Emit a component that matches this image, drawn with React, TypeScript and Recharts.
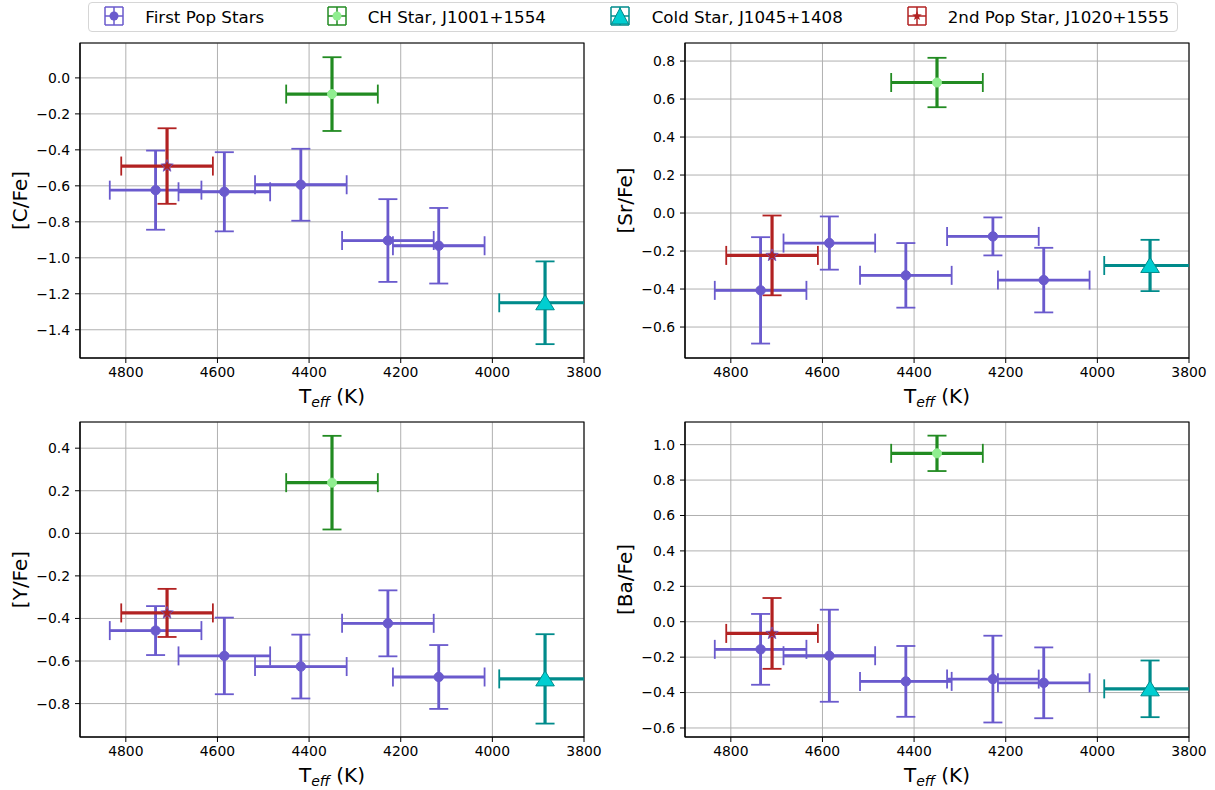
import React from 'react';
import {
  ScatterChart,
  Scatter,
  XAxis,
  YAxis,
  CartesianGrid,
  ErrorBar,
  ReferenceArea,
  Label,
} from 'recharts';

const FONT = '"DejaVu Sans", Verdana, sans-serif';

// effective temperatures (K) and their errors
const teffFirstPop = [4735, 4585, 4418, 4228, 4117];
const teffErrFirstPop = [100, 100, 100, 100, 100];
const teffCH = 4350;
const teffErrCH = 100;
const teffCold = 3885;
const teffErrCold = 100;
const teffSecondPop = 4710;
const teffErrSecondPop = 100;

// [C/Fe]
const cFeFirstPop = [-0.624, -0.633, -0.594, -0.904, -0.933];
const cFeErrFirstPop = [0.22, 0.22, 0.2, 0.23, 0.21];
const cFeOthers = [-0.09, -1.25, -0.49]; // CH, cold, 2nd pop
const cFeErrOthers = [0.205, 0.23, 0.21];

// [Sr/Fe]
const srFeFirstPop = [-0.407, -0.158, -0.328, -0.123, -0.353];
const srFeErrFirstPop = [0.28, 0.14, 0.17, 0.1, 0.17];
const srFeOthers = [0.687, -0.276, -0.223];
const srFeErrOthers = [0.13, 0.135, 0.21];

// [Y/Fe]
const yFeFirstPop = [-0.457, -0.576, -0.626, -0.423, -0.675];
const yFeErrFirstPop = [0.115, 0.18, 0.15, 0.155, 0.15];
const yFeOthers = [0.238, -0.684, -0.374];
const yFeErrOthers = [0.22, 0.21, 0.113];

// [Ba/Fe]
const baFeFirstPop = [-0.156, -0.192, -0.337, -0.324, -0.345];
const baFeErrFirstPop = [0.2, 0.26, 0.2, 0.245, 0.2];
const baFeOthers = [0.951, -0.379, -0.066];
const baFeErrOthers = [0.1, 0.16, 0.2];

const xTicks = [4800, 4600, 4400, 4200, 4000, 3800];

const legendNames = [
  'First Pop Stars',
  'CH Star, J1001+1554',
  'Cold Star, J1045+1408',
  '2nd Pop Star, J1020+1555',
];

const PURPLE = '#6a5acd';
const GREEN = '#228b22';
const TEAL = '#008b8b';
const RED = '#b22222';

// plot area inside each chart svg (same for all four)
const PLOT = { x: 80, y: 43, w: 504, h: 315 };
const CLIP = 'url(#plot-area-clip)';
const CAP = 9.5; // recharts uses this as half the cap length

const panels = [
  {
    label: '[C/Fe]', left: 0, top: 0,
    first: cFeFirstPop, firstErr: cFeErrFirstPop, others: cFeOthers, othersErr: cFeErrOthers,
    domain: [-1.557, 0.194], ticks: [0, -0.2, -0.4, -0.6, -0.8, -1.0, -1.2, -1.4],
  },
  {
    label: '[Sr/Fe]', left: 605, top: 0,
    first: srFeFirstPop, firstErr: srFeErrFirstPop, others: srFeOthers, othersErr: srFeErrOthers,
    domain: [-0.763, 0.895], ticks: [0.8, 0.6, 0.4, 0.2, 0, -0.2, -0.4, -0.6],
  },
  {
    label: '[Y/Fe]', left: 0, top: 379,
    first: yFeFirstPop, firstErr: yFeErrFirstPop, others: yFeOthers, othersErr: yFeErrOthers,
    domain: [-0.957, 0.523], ticks: [0.4, 0.2, 0, -0.2, -0.4, -0.6, -0.8],
  },
  {
    label: '[Ba/Fe]', left: 605, top: 379,
    first: baFeFirstPop, firstErr: baFeErrFirstPop, others: baFeOthers, othersErr: baFeErrOthers,
    domain: [-0.651, 1.128], ticks: [1.0, 0.8, 0.6, 0.4, 0.2, 0, -0.2, -0.4, -0.6],
  },
];

const fmt = (v: number) => {
  const s = Math.abs(v) < 1e-9 ? '0.0' : v.toFixed(1);
  return s.replace('-', '\u2212');
};

const circleShape = (fill: string, stroke: string, r: number) => (p: any) => (
  <circle cx={p.cx} cy={p.cy} r={r} fill={fill} stroke={stroke} strokeWidth={1} />
);

const triangleShape = (p: any) => {
  const { cx, cy } = p;
  return (
    <polygon
      points={`${cx},${cy - 8} ${cx - 9.3},${cy + 7} ${cx + 9.3},${cy + 7}`}
      fill="#00ced1"
      stroke={TEAL}
      strokeWidth={1}
    />
  );
};

function starPoints(cx: number, cy: number, ro: number, ri: number) {
  const pts: string[] = [];
  for (let i = 0; i < 10; i++) {
    const r = i % 2 === 0 ? ro : ri;
    const a = -Math.PI / 2 + (i * Math.PI) / 5;
    pts.push(`${cx + r * Math.cos(a)},${cy + r * Math.sin(a)}`);
  }
  return pts.join(' ');
}

const starShape = (p: any) => (
  <polygon points={starPoints(p.cx, p.cy, 6.5, 2.8)} fill={RED} stroke={PURPLE} strokeWidth={0.8} />
);

const XLabel = (props: any) => {
  const { x, y, width } = props.viewBox;
  return (
    <text x={x + width / 2} y={y + 45} textAnchor="middle" fontFamily={FONT} fontSize={20} fill="#000">
      T
      <tspan fontStyle="italic" fontSize={14} dy={4}>eff</tspan>
      <tspan dy={-4}> (K)</tspan>
    </text>
  );
};

const YLabel = (text: string) => (props: any) => {
  const { x, y, height } = props.viewBox;
  const cx = x - 5;
  const cy = y + height / 2;
  return (
    <text
      x={cx}
      y={cy}
      textAnchor="middle"
      dominantBaseline="central"
      transform={`rotate(-90, ${cx}, ${cy})`}
      fontFamily={FONT}
      fontSize={20}
      fill="#000"
    >
      {text}
    </text>
  );
};

// matplotlib-like error bars: thick bar, thinner caps
function errorBars(color: string, barWidth: number) {
  return [
    <ErrorBar key="xb" dataKey="ex" direction="x" width={0} stroke={color} strokeWidth={barWidth} clipPath={CLIP} />,
    <ErrorBar key="xc" dataKey="ex" direction="x" width={CAP} stroke={color} strokeWidth={1.8} clipPath={CLIP} />,
    <ErrorBar key="yb" dataKey="ey" direction="y" width={0} stroke={color} strokeWidth={barWidth} clipPath={CLIP} />,
    <ErrorBar key="yc" dataKey="ey" direction="y" width={CAP} stroke={color} strokeWidth={1.8} clipPath={CLIP} />,
  ];
}

function Panel({ p }: { p: (typeof panels)[number] }) {
  const firstData = teffFirstPop.map((t, i) => ({
    x: t, y: p.first[i], ex: teffErrFirstPop[i], ey: p.firstErr[i],
  }));
  const chData = [{ x: teffCH, y: p.others[0], ex: teffErrCH, ey: p.othersErr[0] }];
  const coldData = [{ x: teffCold, y: p.others[1], ex: teffErrCold, ey: p.othersErr[1] }];
  const secondData = [{ x: teffSecondPop, y: p.others[2], ex: teffErrSecondPop, ey: p.othersErr[2] }];
  const tickStyle = { fontFamily: FONT, fontSize: 13.9, fill: '#000' };

  return (
    <div style={{ position: 'absolute', left: p.left, top: p.top }}>
      <ScatterChart width={620} height={410} margin={{ top: 43, right: 36, bottom: 7, left: 25 }}>
        <CartesianGrid stroke="#b0b0b0" strokeWidth={1} />
        <XAxis
          type="number"
          dataKey="x"
          domain={[3800, 4900]}
          reversed
          allowDataOverflow
          ticks={xTicks}
          interval={0}
          height={45}
          tick={tickStyle}
          tickSize={5}
          tickMargin={4}
          stroke="#000"
          tickLine={{ stroke: '#000' }}
          axisLine={{ stroke: '#000', strokeWidth: 1.1 }}
        >
          <Label content={XLabel} />
        </XAxis>
        <YAxis
          type="number"
          dataKey="y"
          domain={p.domain}
          allowDataOverflow
          ticks={p.ticks}
          interval={0}
          width={55}
          tick={tickStyle}
          tickFormatter={fmt}
          tickSize={5}
          tickMargin={5}
          stroke="#000"
          tickLine={{ stroke: '#000' }}
          axisLine={{ stroke: '#000', strokeWidth: 1.1 }}
        >
          <Label content={YLabel(p.label)} />
        </YAxis>
        <Scatter data={firstData} shape={circleShape(PURPLE, PURPLE, 4.7)} isAnimationActive={false}>
          {errorBars(PURPLE, 2.8)}
        </Scatter>
        <Scatter data={chData} shape={circleShape('#90ee90', '#90ee90', 4.5)} isAnimationActive={false}>
          {errorBars(GREEN, 3.2)}
        </Scatter>
        <Scatter data={coldData} shape={triangleShape} isAnimationActive={false}>
          {errorBars(TEAL, 3.2)}
        </Scatter>
        <Scatter data={secondData} shape={starShape} isAnimationActive={false}>
          {errorBars(RED, 3.2)}
        </Scatter>
        <ReferenceArea
          x1={4900}
          x2={3800}
          y1={p.domain[0]}
          y2={p.domain[1]}
          fill="none"
          fillOpacity={0}
          stroke="#000"
          strokeWidth={1.1}
          ifOverflow="visible"
        />
      </ScatterChart>
    </div>
  );
}

function LegendIcon({ color, marker }: { color: string; marker: React.ReactNode }) {
  return (
    <svg width={22} height={22} style={{ position: 'absolute', left: -11, top: -11 }}>
      <line x1={2} y1={11} x2={20} y2={11} stroke={color} strokeWidth={1.5} />
      <line x1={11} y1={2} x2={11} y2={20} stroke={color} strokeWidth={1.5} />
      <line x1={2} y1={2} x2={20} y2={2} stroke={color} strokeWidth={1.5} />
      <line x1={2} y1={20} x2={20} y2={20} stroke={color} strokeWidth={1.5} />
      <line x1={2} y1={2} x2={2} y2={20} stroke={color} strokeWidth={1.5} />
      <line x1={20} y1={2} x2={20} y2={20} stroke={color} strokeWidth={1.5} />
      {marker}
    </svg>
  );
}

function FigureLegend() {
  const items = [
    { cx: 112.7, tx: 144.3, color: PURPLE, marker: <circle cx={11} cy={11} r={4.5} fill={PURPLE} /> },
    { cx: 335.7, tx: 366.7, color: GREEN, marker: <circle cx={11} cy={11} r={4.5} fill="#90ee90" /> },
    {
      cx: 619.3, tx: 650.7, color: TEAL,
      marker: <polygon points="11,3 2.5,19 19.5,19" fill="#00ced1" stroke={TEAL} strokeWidth={1} />,
    },
    { cx: 916, tx: 946.7, color: RED, marker: <polygon points={starPoints(11, 11, 5, 2.2)} fill={RED} /> },
  ];
  return (
    <div
      style={{
        position: 'absolute',
        left: 88,
        top: 2,
        width: 1090,
        height: 30,
        border: '1px solid #d6d6d6',
        borderRadius: 4,
        boxSizing: 'border-box',
        background: 'rgba(255,255,255,0.8)',
      }}
    >
      {items.map((it, i) => (
        <div key={legendNames[i]}>
          <div style={{ position: 'absolute', left: it.cx - 88, top: 15 - 2 }}>
            <LegendIcon color={it.color} marker={it.marker} />
          </div>
          <span
            style={{
              position: 'absolute',
              left: it.tx - 88,
              top: 3,
              fontFamily: FONT,
              fontSize: 16.7,
              lineHeight: '22px',
              color: '#000',
              whiteSpace: 'nowrap',
            }}
          >
            {legendNames[i]}
          </span>
        </div>
      ))}
    </div>
  );
}

export default function App() {
  return (
    <div style={{ position: 'absolute', left: 0, top: 0, width: 1215, height: 790, background: '#fff' }}>
      <svg width={0} height={0} style={{ position: 'absolute' }}>
        <defs>
          <clipPath id="plot-area-clip" clipPathUnits="userSpaceOnUse">
            <rect x={PLOT.x} y={PLOT.y} width={PLOT.w} height={PLOT.h} />
          </clipPath>
        </defs>
      </svg>
      {panels.map((p) => (
        <Panel key={p.label} p={p} />
      ))}
      <FigureLegend />
    </div>
  );
}
